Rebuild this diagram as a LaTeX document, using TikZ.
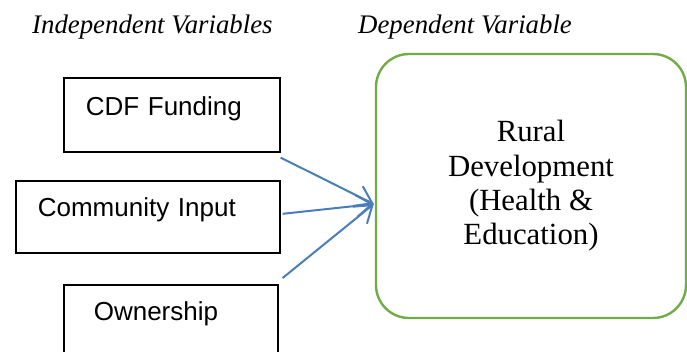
\documentclass[tikz,border=0pt]{standalone}
\usepackage{fontspec}
\setmainfont{Liberation Serif}
\newfontfamily\arialfont{Liberation Sans}
\usetikzlibrary{arrows.meta}
\definecolor{arrowblue}{RGB}{74,126,187}
\definecolor{boxgreen}{RGB}{112,173,71}
\tikzset{
  ivbox/.style={draw=black, line width=1.6pt, inner ysep=0pt, align=left,
    font=\arialfont\fontsize{26}{30}\selectfont},
  dvbox/.style={draw=boxgreen, line width=2.4pt, rounded corners=33pt,
    minimum width=310pt, minimum height=264pt, align=center,
    font=\fontsize{30.8}{34.3}\selectfont},
  header/.style={anchor=base west, inner sep=0pt, font=\itshape\fontsize{26.8}{30}\selectfont},
  link/.style={draw=arrowblue, line width=2pt,
    -{Straight Barb[length=16pt, width=22pt, line width=2pt]}}
}
\begin{document}
\begin{tikzpicture}[x=1pt, y=-1pt]
\clip (0,0) rectangle (687,351);
\fill[white] (0,0) rectangle (687,351);

\node[header] (ivh) at (32,33) {Independent Variables};
\node[header] (dvh) at (358,33) {Dependent Variable};

\node[ivbox, anchor=north west, inner xsep=22pt, text width=172pt,
      text height=38pt, text depth=36pt] (cdf) at (63,77) {CDF Funding};
\node[ivbox, anchor=north west, inner xsep=22pt, text width=220pt,
      text height=36pt, text depth=36pt] (com) at (15,180) {Community Input};
\node[ivbox, anchor=north west, inner xsep=30pt, text width=154pt,
      text height=36pt, text depth=70pt] (own) at (63,284) {Ownership};

\node[dvbox] (dv) at (531,186) {Rural\\Development\\(Health \&\\Education)};

\coordinate (tip) at ([xshift=-1pt,yshift=-18pt]dv.west);
\coordinate (s1) at ([yshift=-5pt]cdf.south east);
\coordinate (s2) at ([xshift=2pt,yshift=3pt]com.east);
\coordinate (s3) at ([xshift=4pt,yshift=6pt]own.north east);

\draw[link] (s1) -- (tip);
\draw[link] (s2) -- (tip);
\draw[link] (s3) -- (tip);
\end{tikzpicture}
\end{document}
